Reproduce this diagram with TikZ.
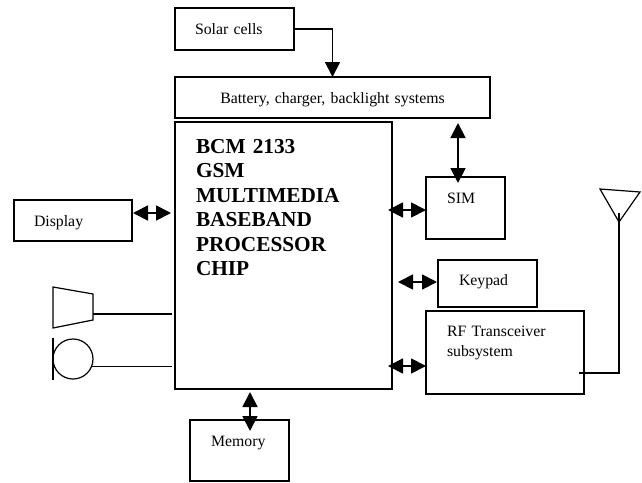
\documentclass[tikz,border=0pt]{standalone}
\usepackage{fontspec}
\setmainfont{Liberation Serif}
\usetikzlibrary{arrows.meta}
\tikzset{
  blockbox/.style={draw, line width=1.2pt, anchor=north west, outer sep=0pt, inner ysep=0pt, inner xsep=21pt, align=left, font=\fontsize{15.8}{20}\selectfont},
  thinline/.style={line width=1.2pt},
  biarrow/.style={<->, line width=1.8pt},
  >={Triangle[length=15pt,width=15pt]}
}
\begin{document}
\begin{tikzpicture}[x=1pt, y=-1pt]
\useasboundingbox (0,0) rectangle (642,482);
\node[blockbox, inner xsep=20pt, text width=79pt, text height=26pt, text depth=16pt] (solar) at (175,8) {Solar cells};
\node[blockbox, inner xsep=40pt, text width=235pt, text height=26pt, text depth=15pt, align=center] (battery) at (175,77) {Battery, charger, backlight systems};
\node[blockbox, text width=175pt, text height=31pt, text depth=236pt, font=\fontsize{21.3}{24.5}\selectfont\bfseries] (chip) at (175,122) {BCM 2133\\ GSM\\ MULTIMEDIA\\ BASEBAND\\ PROCESSOR\\ CHIP};
\node[blockbox, inner xsep=20pt, text width=78pt, text height=26pt, text depth=15pt] (display) at (14,200) {Display};
\node[blockbox, text width=37pt, text height=26pt, text depth=36pt] (sim) at (426,177) {SIM};
\node[blockbox, text width=57pt, text height=25pt, text depth=22pt] (keypad) at (438,260) {Keypad};
\node[blockbox, text width=116pt, text height=25pt, text depth=58pt] (rf) at (426,311) {RF Transceiver\\ subsystem};
\node[blockbox, text width=57pt, text height=26pt, text depth=35pt] (memory) at (190,420) {Memory};

% speaker and microphone
\coordinate (spkout) at (93,314);
\draw[thinline] (53,287) -- (93,294) -- (93,320) -- (53,328) -- cycle;
\node[draw, thinline, circle, minimum size=40pt, inner sep=0pt, outer sep=0pt] (mic) at (73,359) {};
\draw[thinline] (53,338) -- (53,380);
\draw[thinline, shorten >=3pt] (spkout) -- (spkout -| chip.west);
\draw[thinline, shorten >=3pt] (mic.-22) -- (mic.-22 -| chip.west);

% antenna
\coordinate (anttop) at (619,213);
\coordinate (rfout) at (579,373);
\draw[thinline] (600,189) -- (640,192) -- (619,222) -- cycle;
\draw[thinline] (rfout) -| (anttop);

\draw[->, line width=1.8pt] (solar.east) -| (battery.north);
\draw[biarrow, shorten <=3pt, shorten >=-11pt] ([xshift=10.5pt]memory.north |- chip.south) -- ([xshift=10.5pt]memory.north);
\draw[biarrow, shorten <=5pt, shorten >=-6pt] ([xshift=-7.5pt]sim.north |- battery.south) -- ([xshift=-7.5pt]sim.north);
\draw[biarrow, shorten <=1pt, shorten >=4pt] ([yshift=7.5pt]display.east) -- ([yshift=7.5pt]display.east -| chip.west);
\draw[biarrow, shorten <=-4pt] ([yshift=-2pt]sim.west -| chip.east) -- ([yshift=-2pt]sim.west);
\draw[biarrow, shorten <=6pt, shorten >=1pt] ([yshift=1.5pt]keypad.west -| chip.east) -- ([yshift=1.5pt]keypad.west);
\draw[biarrow, shorten <=-4pt] ([yshift=-13.5pt]rf.west -| chip.east) -- ([yshift=-13.5pt]rf.west);
\end{tikzpicture}
\end{document}
